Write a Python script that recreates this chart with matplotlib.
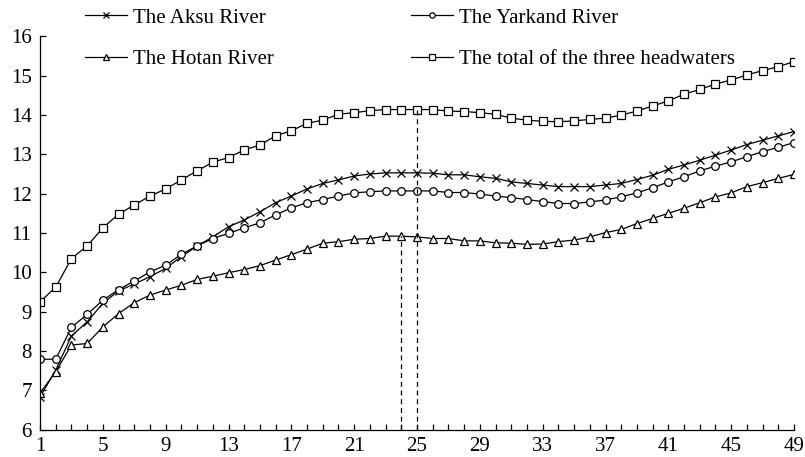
import numpy as np
import matplotlib
matplotlib.use("Agg")
from matplotlib import pyplot as plt

plt.rcParams['font.family'] = ['Liberation Serif', 'DejaVu Serif']

x = np.arange(1, 50)

aksu = [6.83, 7.51, 8.38, 8.74, 9.21, 9.53, 9.70, 9.89, 10.10, 10.40,
        10.67, 10.90, 11.16, 11.33, 11.54, 11.77, 11.94, 12.12, 12.26, 12.35,
        12.45, 12.50, 12.53, 12.53, 12.53, 12.52, 12.48, 12.48, 12.43, 12.39,
        12.30, 12.26, 12.22, 12.18, 12.18, 12.18, 12.22, 12.26, 12.36, 12.47,
        12.62, 12.73, 12.85, 12.98, 13.11, 13.25, 13.36, 13.47, 13.58]
yarkand = [7.79, 7.79, 8.60, 8.93, 9.29, 9.56, 9.78, 10.01, 10.18, 10.46,
           10.67, 10.86, 10.99, 11.13, 11.26, 11.46, 11.64, 11.77, 11.85, 11.94,
           12.02, 12.05, 12.07, 12.07, 12.07, 12.07, 12.03, 12.03, 11.99, 11.94,
           11.90, 11.85, 11.80, 11.75, 11.75, 11.79, 11.84, 11.92, 12.02, 12.15,
           12.30, 12.43, 12.58, 12.70, 12.81, 12.94, 13.07, 13.18, 13.30]
hotan = [6.93, 7.47, 8.15, 8.19, 8.61, 8.95, 9.23, 9.42, 9.55, 9.67,
         9.82, 9.90, 9.99, 10.07, 10.17, 10.31, 10.45, 10.59, 10.74, 10.78,
         10.84, 10.86, 10.92, 10.92, 10.90, 10.86, 10.86, 10.80, 10.80, 10.75,
         10.74, 10.71, 10.72, 10.78, 10.82, 10.90, 11.01, 11.09, 11.24, 11.37,
         11.50, 11.63, 11.77, 11.92, 12.02, 12.18, 12.28, 12.39, 12.49]
total = [9.25, 9.62, 10.35, 10.67, 11.13, 11.48, 11.71, 11.94, 12.12, 12.35,
         12.58, 12.80, 12.92, 13.11, 13.24, 13.47, 13.60, 13.79, 13.87, 14.02,
         14.06, 14.11, 14.14, 14.14, 14.14, 14.14, 14.10, 14.09, 14.06, 14.02,
         13.92, 13.87, 13.84, 13.83, 13.85, 13.89, 13.92, 14.00, 14.10, 14.23,
         14.36, 14.53, 14.65, 14.79, 14.89, 15.02, 15.13, 15.23, 15.36]

labels = ["The Aksu River", "The Yarkand River", "The Hotan River",
          "The total of the three headwaters"]

fig = plt.figure(figsize=(8.05, 4.57), dpi=100)
ax = fig.add_axes([40 / 805, 1 - 429.6 / 457, 754 / 805, 393.2 / 457])

style = dict(color="black", lw=0.9, mfc="white", mec="black", mew=0.9, ms=5.5)
h1, = ax.plot(x, aksu, marker="x", label=labels[0], **style)
h3, = ax.plot(x, hotan, marker="^", label=labels[2], **style)
h2, = ax.plot(x, yarkand, marker="o", label=labels[1], **style)
h4, = ax.plot(x, total, marker="s", label=labels[3], **style)

# dashed guides
ax.vlines(24, 6, hotan[23], colors="black", linestyles=(0, (4, 3)), lw=0.9)
ax.vlines(25, 6, total[24], colors="black", linestyles=(0, (4, 3)), lw=0.9)

ax.set_xlim(1, 49)
ax.set_ylim(6, 16)
ax.set_xticks(np.arange(1, 50, 4))
ax.set_xticks(x, minor=True)
ax.set_yticks(np.arange(6, 17, 1))
ax.tick_params(axis="both", which="both", direction="in", length=4, width=0.9,
               labelsize=15)
ax.tick_params(axis="x", pad=5)
ax.tick_params(axis="y", pad=6)
for s in ["top", "right"]:
    ax.spines[s].set_visible(False)
for s in ["left", "bottom"]:
    ax.spines[s].set_linewidth(0.9)

fig.legend([h1, h3, h2, h4], [labels[0], labels[2], labels[1], labels[3]],
           ncol=2, loc="upper left", bbox_to_anchor=(85 / 805, 1 - 8 / 457),
           frameon=False, fontsize=15, handlelength=2.0, handletextpad=0.3,
           columnspacing=6.6, labelspacing=1.05, borderpad=0, borderaxespad=0,
           markerscale=0.7)

fig.savefig("out.png", dpi=100)
